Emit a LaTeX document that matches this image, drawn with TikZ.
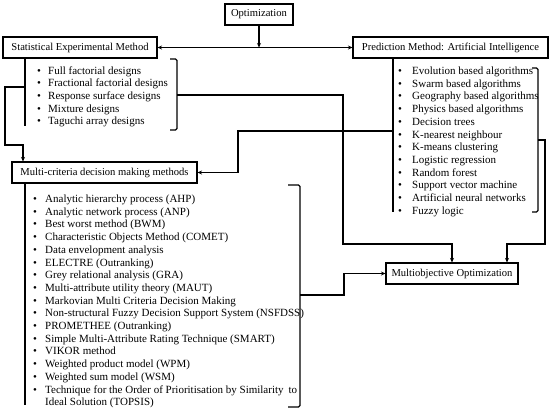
\documentclass[tikz,border=0pt]{standalone}
\usepackage{fontspec}
\setmainfont{Liberation Serif}
\usetikzlibrary{arrows.meta}
\newcommand\blt[1]{\makebox[#1][l]{\textbullet}}
\begin{document}
\begin{tikzpicture}[x=1pt,y=-1pt,
  txt/.style={font=\fontsize{11}{12.7}\selectfont},
  box/.style={font=\fontsize{10.6}{12.7}\selectfont, draw, line width=1.1pt, inner sep=0pt, minimum height=21pt},
  ln/.style={line width=1.1pt},
  tip/.tip={Stealth[length=4.5pt,width=4pt]},
  arr/.style={ln, -tip},
  brk/.style={ln, rounded corners=1.5pt},
  lst/.style={txt, inner sep=0pt, anchor=base west}]
\useasboundingbox (0,0) rectangle (550,413);

% boxes
\node[box, minimum width=68pt] (opt) at (259,14.5) {Optimization};
\node[box, minimum width=154pt] (sem) at (80,47.5) {Statistical Experimental Method};
\node[box, minimum width=195pt] (pm) at (450.5,47.5) {Prediction Method: Artificial Intelligence};
\node[box, minimum width=185pt] (mcdm) at (104.5,172.5) {Multi-criteria decision making methods};
\node[box, minimum width=132pt] (mo) at (452,273.5) {Multiobjective Optimization};

% lists
\node[lst] (semlist) at (37,74) {\begin{tabular}[t]{@{}l@{}}
\blt{11pt}Full factorial designs\\
\blt{11pt}Fractional factorial designs\\
\blt{11pt}Response surface designs\\
\blt{11pt}Mixture designs\\
\blt{11pt}Taguchi array designs
\end{tabular}};

\node[lst] (pmlist) at (398,74.5) {\begin{tabular}[t]{@{}l@{}}
\blt{14pt}Evolution based algorithms\\
\blt{14pt}Swarm based algorithms\\
\blt{14pt}Geography based algorithms\\
\blt{14pt}Physics based algorithms\\
\blt{14pt}Decision trees\\
\blt{14pt}K-nearest neighbour\\
\blt{14pt}K-means clustering\\
\blt{14pt}Logistic regression\\
\blt{14pt}Random forest\\
\blt{14pt}Support vector machine\\
\blt{14pt}Artificial neural networks\\
\blt{14pt}Fuzzy logic
\end{tabular}};

\node[lst] (mclist) at (33,202.5) {\begin{tabular}[t]{@{}l@{}}
\blt{12pt}Analytic hierarchy process (AHP)\\
\blt{12pt}Analytic network process (ANP)\\
\blt{12pt}Best worst method (BWM)\\
\blt{12pt}Characteristic Objects Method (COMET)\\
\blt{12pt}Data envelopment analysis\\
\blt{12pt}ELECTRE (Outranking)\\
\blt{12pt}Grey relational analysis (GRA)\\
\blt{12pt}Multi-attribute utility theory (MAUT)\\
\blt{12pt}Markovian Multi Criteria Decision Making\\
\blt{12pt}Non-structural Fuzzy Decision Support System (NSFDSS)\\
\blt{12pt}PROMETHEE (Outranking)\\
\blt{12pt}Simple Multi-Attribute Rating Technique (SMART)\\
\blt{12pt}VIKOR method\\
\blt{12pt}Weighted product model (WPM)\\
\blt{12pt}Weighted sum model (WSM)\\
\blt{12pt}Technique for the Order of Prioritisation by Similarity\hspace{5pt}to\\
\hspace*{12pt}Ideal Solution (TOPSIS)
\end{tabular}};

% top connectors
\draw[arr] (opt.south) -- (opt.south |- sem.east);
\draw[ln, tip-tip] (sem.east) -- (pm.west);

% statistical list line and branch to MCDM
\coordinate (sv) at (25,126);
\draw[ln] (sv |- sem.south) -- (sv);
\coordinate (sb) at (25,87);
\coordinate (sl1) at (5,87);
\coordinate (sl2) at (5,145);
\coordinate (sd) at (23,145);
\draw[arr] (sb) -- (sl1) -- (sl2) -- (sd) -- (sd |- mcdm.north);

% statistical bracket to MO
\draw[brk] (170,59) -- (177,59) -- (177,130) -- (170,130);
\coordinate (semb) at (177,95);
\draw[arr] (semb) -- (343,95) -- (343,244) -| (mo.north);

% prediction list line and branch to MCDM
\coordinate (pv) at (393,212);
\draw[ln] (pv |- pm.south) -- (pv);
\coordinate (pb) at (393,131);
\draw[arr] (pb) -- (238,131) |- (mcdm.east);

% prediction bracket to MO
\draw[brk] (532,68) -- (538,68) -- (538,212) -- (532,212);
\coordinate (pmb) at (538,140);
\path (mo.north) ++(55,0) coordinate (moR);
\draw[arr] (pmb) -- (545,140) -- (545,244) -| (moR);

% MCDM list line and bracket to MO
\coordinate (mv) at (25,405);
\draw[ln] (mv |- mcdm.south) -- (mv);
\draw[brk] (288,185) -- (300,185) -- (300,407) -- (288,407);
\coordinate (mb) at (300,295);
\draw[arr] (mb) -- (344,295) |- (mo.west);
\end{tikzpicture}
\end{document}
